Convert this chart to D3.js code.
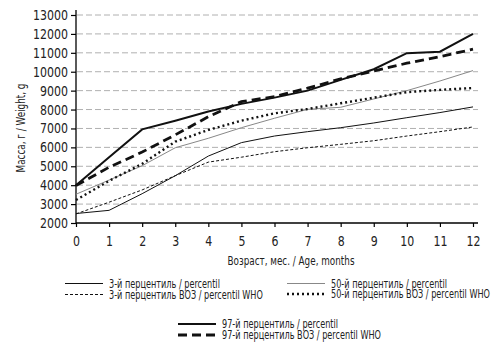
<!DOCTYPE html>
<html>
<head>
<meta charset="utf-8">
<script src="https://cdn.jsdelivr.net/npm/d3@7"></script>
<style>
body { margin: 0; background: #fff; }
text { font-family: "DejaVu Sans", sans-serif; fill: #222; }
</style>
</head>
<body>
<svg id="chart" width="500" height="349"></svg>
<script>
const months = [0,1,2,3,4,5,6,7,8,9,10,11,12]
const yTicks = [2000,3000,4000,5000,6000,7000,8000,9000,10000,11000,12000,13000]

const p3     = [2500,2670,3550,4500,5540,6250,6600,6830,7040,7290,7570,7840,8140]
const p3who  = [2480,3100,3750,4500,5220,5480,5770,5980,6160,6350,6600,6830,7080]
const p50    = [3520,4270,5030,5980,6480,7040,7540,8010,8120,8560,9000,9510,10060]
const p50who = [3220,4230,5130,6300,6920,7410,7800,8030,8330,8630,8920,9040,9140]
const p97    = [4000,5480,6950,7410,7900,8300,8630,9000,9570,10130,10980,11060,12000]
const p97who = [3980,4950,5750,6660,7620,8420,8680,9130,9620,10040,10450,10800,11190]

const series = [
  {name: "3-й перцентиль / percentil", values: p3, color: "#111", width: 1, dash: null},
  {name: "3-й перцентиль ВОЗ / percentil WHO", values: p3who, color: "#111", width: 1, dash: "3,2"},
  {name: "50-й перцентиль / percentil", values: p50, color: "#888", width: 1, dash: null},
  {name: "50-й перцентиль ВОЗ / percentil WHO", values: p50who, color: "#111", width: 2.4, dash: "2,3"},
  {name: "97-й перцентиль / percentil", values: p97, color: "#111", width: 2, dash: null},
  {name: "97-й перцентиль ВОЗ / percentil WHO", values: p97who, color: "#111", width: 2.8, dash: "9,5"}
]

const svg = d3.select("#chart")
const x = d3.scaleLinear().domain([0, 12]).range([76, 473])
const y = d3.scaleLinear().domain([2000, 13000]).range([223, 15])

// squeeze text horizontally, the original uses a narrow font
function squeeze(sel, s) {
  sel.each(function() {
    const t = d3.select(this)
    const tx = +t.attr("x") || 0, ty = +t.attr("y") || 0
    const tr = t.attr("transform") || ""
    t.attr("x", 0).attr("y", 0)
     .attr("transform", tr + " translate(" + tx + "," + ty + ") scale(" + s + ",1)")
  })
}

// grid
svg.append("g").selectAll("line")
    .data(yTicks.slice(1))
  .enter().append("line")
    .attr("x1", 77).attr("x2", 478)
    .attr("y1", d => y(d)).attr("y2", d => y(d))
    .attr("stroke", "#b0b0b0")
    .attr("stroke-dasharray", "6,3")

const xAxis = d3.axisBottom(x).tickValues(months).tickSize(4).tickSizeOuter(0).tickFormat(d3.format("d"))
const yAxis = d3.axisLeft(y).tickValues(yTicks).tickSize(5).tickSizeOuter(0).tickFormat(d3.format("d"))

const gx = svg.append("g")
    .attr("transform", "translate(0," + y(2000) + ")")
    .call(xAxis)
gx.select(".domain").attr("d", "M76,0H478").attr("stroke-width", 1.3)
gx.selectAll("text").attr("dy", "1.15em").style("font-size", "14px")

const gy = svg.append("g")
    .attr("transform", "translate(" + x(0) + ",0)")
    .call(yAxis)
gy.select(".domain").attr("d", "M0,224V10").attr("stroke-width", 1.3)
gy.selectAll("text").attr("x", -8).style("font-size", "14px")
svg.selectAll(".tick line").attr("stroke-width", 1.2)

const tickTexts = svg.selectAll(".tick text")
const sTick = 35 / gy.selectAll("text").filter(d => d === 13000).node().getComputedTextLength()
squeeze(tickTexts, sTick)

const line = d3.line()
    .x((d, i) => x(months[i]))
    .y(d => y(d))

svg.append("g").selectAll("path")
    .data(series)
  .enter().append("path")
    .attr("d", d => line(d.values))
    .attr("fill", "none")
    .attr("stroke", d => d.color)
    .attr("stroke-width", d => d.width)
    .attr("stroke-dasharray", d => d.dash)

const xTitle = svg.append("text")
    .attr("x", 291)
    .attr("y", 265)
    .attr("text-anchor", "middle")
    .style("font-size", "13px")
    .text("Возраст, мес. / Age, months")
const sTitle = 127 / xTitle.node().getComputedTextLength()
squeeze(xTitle, sTitle)

const yTitle = svg.append("text")
    .attr("transform", "rotate(-90)")
    .attr("x", -128)
    .attr("y", 25)
    .attr("text-anchor", "middle")
    .style("font-size", "13px")
    .text("Масса, г / Weight, g")
squeeze(yTitle, sTitle)

// legend
const legendPos = [
  {lx: 65, ly: 283},
  {lx: 65, ly: 294},
  {lx: 287, ly: 283},
  {lx: 287, ly: 294},
  {lx: 178, ly: 324},
  {lx: 178, ly: 335}
]
const legend = svg.append("g").selectAll("g")
    .data(series)
  .enter().append("g")
    .attr("transform", (d, i) => "translate(" + legendPos[i].lx + "," + (legendPos[i].ly + (d.width < 1.5 ? 0.5 : 0)) + ")")
legend.append("line")
    .attr("x1", 0).attr("x2", 38)
    .attr("stroke", d => d.color)
    .attr("stroke-width", d => d.width)
    .attr("stroke-dasharray", d => d.dash)
const legText = legend.append("text")
    .attr("x", 44)
    .attr("dy", "0.36em")
    .style("font-size", "11.5px")
    .text(d => d.name)
const sLeg = 111 / legText.node().getComputedTextLength()
squeeze(legText, sLeg)
</script>
</body>
</html>
